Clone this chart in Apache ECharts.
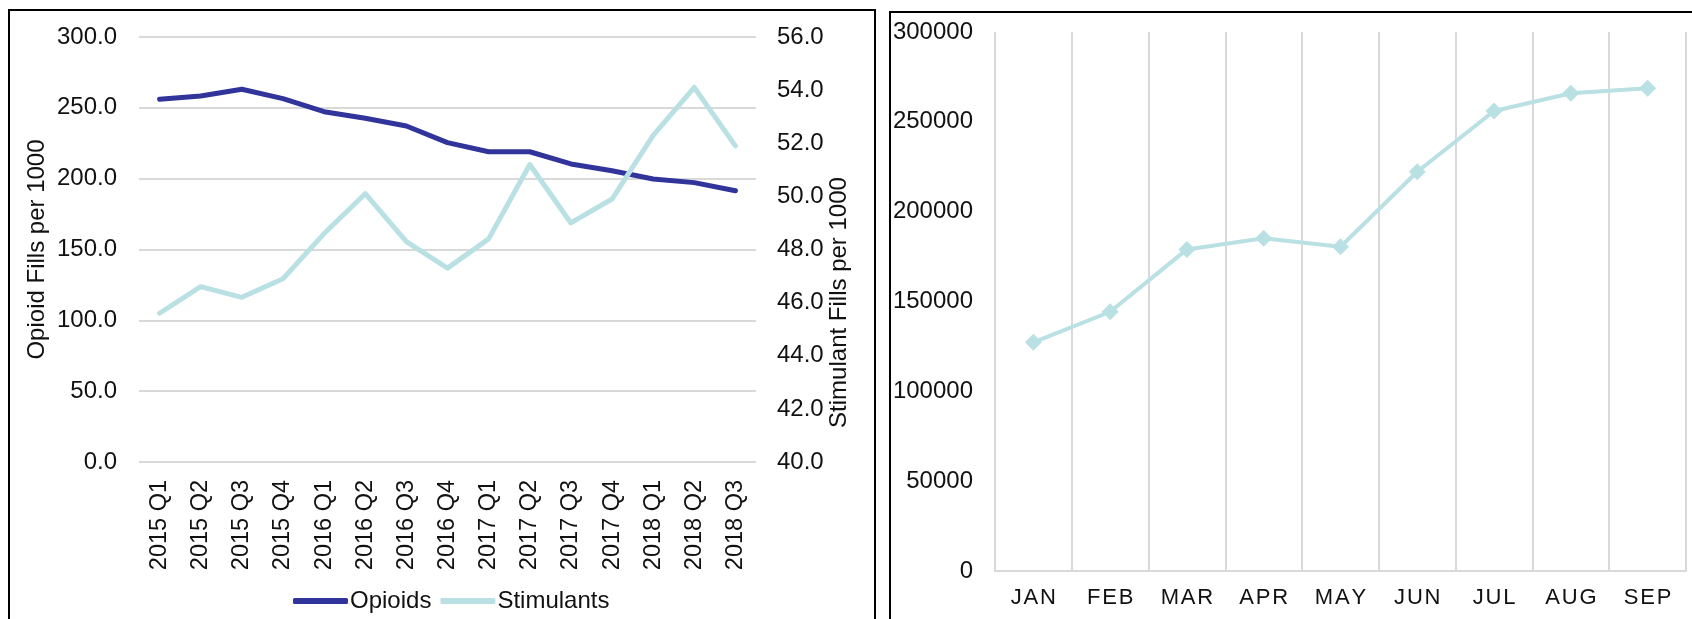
<!DOCTYPE html>
<html>
<head>
<meta charset="utf-8">
<script src="https://cdn.jsdelivr.net/npm/echarts@6/dist/echarts.min.js"></script>
<style>
  html, body { margin: 0; padding: 0; background: #ffffff; }
  #chart { width: 1692px; height: 619px; }
</style>
</head>
<body>
<div id="chart"></div>
<script>
// Quarterly fills per 1000 (left panel)
const quarters = ['2015 Q1', '2015 Q2', '2015 Q3', '2015 Q4', '2016 Q1', '2016 Q2', '2016 Q3', '2016 Q4',
                  '2017 Q1', '2017 Q2', '2017 Q3', '2017 Q4', '2018 Q1', '2018 Q2', '2018 Q3'];
const opioids = [256.0, 258.4, 263.1, 256.5, 247.3, 242.6, 237.2, 225.4, 219.0, 219.0, 210.4, 205.6, 199.8, 197.2, 191.5];
const stimulants = [45.6, 46.6, 46.2, 46.9, 48.6, 50.1, 48.3, 47.3, 48.4, 51.2, 49.0, 49.9, 52.3, 54.1, 51.9];

// Monthly totals (right panel)
const months = ['JAN', 'FEB', 'MAR', 'APR', 'MAY', 'JUN', 'JUL', 'AUG', 'SEP'];
const monthly = [127300, 144300, 179000, 185200, 180500, 222200, 256000, 265900, 268700];

const DARK = '#31349a';
const LIGHT = '#b9e0e3';
const GRID = '#d9d9d9';
const TXT = '#111111';
const FONT = '"Liberation Sans", Arial, sans-serif';

const chart = echarts.init(document.getElementById('chart'), null, { renderer: 'canvas' });

chart.setOption({
  animation: false,
  backgroundColor: '#ffffff',
  textStyle: { fontFamily: FONT },
  graphic: [
    { type: 'rect', shape: { x: 9, y: 10, width: 866, height: 640 },
      style: { fill: 'none', stroke: '#000', lineWidth: 2 }, silent: true },
    { type: 'rect', shape: { x: 890, y: 12, width: 820, height: 640 },
      style: { fill: 'none', stroke: '#000', lineWidth: 2 }, silent: true }
  ],
  legend: {
    data: ['Opioids', 'Stimulants'],
    left: 288,
    top: 584,
    icon: 'roundRect',
    itemWidth: 55,
    itemHeight: 6,
    itemGap: 9,
    textStyle: { fontSize: 24, color: TXT, fontFamily: FONT, padding: [0, 0, 0, -3] }
  },
  grid: [
    { left: 139, right: 936, top: 37, bottom: 157, containLabel: false },
    { left: 995, right: 6, top: 32, bottom: 48, containLabel: false }
  ],
  xAxis: [
    {
      type: 'category', gridIndex: 0, data: quarters, boundaryGap: true,
      axisLine: { show: false }, axisTick: { show: false },
      axisLabel: { rotate: 90, margin: 18, fontSize: 23.5, color: TXT, fontFamily: FONT, interval: 0 }
    },
    {
      type: 'category', gridIndex: 1, data: months, boundaryGap: true,
      axisLine: { show: true, lineStyle: { color: GRID, width: 2 } },
      axisTick: { show: false },
      splitLine: { show: true, interval: 0, lineStyle: { color: GRID, width: 2 } },
      axisLabel: {
        margin: 16, fontSize: 22, color: TXT, fontFamily: FONT, interval: 0,
        formatter: v => v.split('').join('\u200A')
      }
    }
  ],
  yAxis: [
    {
      type: 'value', gridIndex: 0, min: 0, max: 300, interval: 50,
      name: 'Opioid Fills per 1000', nameLocation: 'middle', nameGap: 90,
      nameTextStyle: { fontSize: 24, color: TXT, fontFamily: FONT },
      axisLine: { show: false }, axisTick: { show: false },
      splitLine: { show: true, lineStyle: { color: GRID, width: 2 } },
      axisLabel: { margin: 22, fontSize: 24, color: TXT, fontFamily: FONT, formatter: v => v.toFixed(1) }
    },
    {
      type: 'value', gridIndex: 0, position: 'right', min: 40, max: 56, interval: 2,
      name: 'Stimulant Fills per 1000', nameLocation: 'middle', nameGap: 64,
      nameTextStyle: { fontSize: 24, color: TXT, fontFamily: FONT, padding: [0, 106, 0, 0] },
      axisLine: { show: false }, axisTick: { show: false },
      splitLine: { show: false },
      axisLabel: { margin: 21, fontSize: 24, color: TXT, fontFamily: FONT, formatter: v => v.toFixed(1) }
    },
    {
      type: 'value', gridIndex: 1, min: 0, max: 300000, interval: 50000,
      axisLine: { show: false }, axisTick: { show: false },
      splitLine: { show: false },
      axisLabel: { margin: 22, fontSize: 24, color: TXT, fontFamily: FONT, formatter: v => String(v) }
    }
  ],
  series: [
    {
      name: 'Opioids', type: 'line', xAxisIndex: 0, yAxisIndex: 0, data: opioids,
      showSymbol: false, symbol: 'none', color: DARK,
      lineStyle: { color: DARK, width: 5, cap: 'round', join: 'round' },
      itemStyle: { color: DARK }
    },
    {
      name: 'Stimulants', type: 'line', xAxisIndex: 0, yAxisIndex: 1, data: stimulants,
      showSymbol: false, symbol: 'none', color: LIGHT,
      lineStyle: { color: LIGHT, width: 5, cap: 'round', join: 'round' },
      itemStyle: { color: LIGHT }
    },
    {
      name: 'Monthly', type: 'line', xAxisIndex: 1, yAxisIndex: 2, data: monthly,
      symbol: 'diamond', symbolSize: 17, showSymbol: true, color: LIGHT,
      lineStyle: { color: LIGHT, width: 4, join: 'round' },
      itemStyle: { color: LIGHT }
    }
  ]
});
</script>
</body>
</html>
